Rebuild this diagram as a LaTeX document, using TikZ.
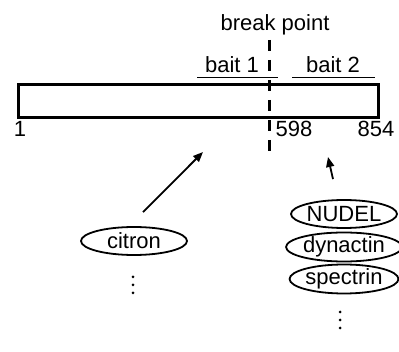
\documentclass[tikz,border=0pt]{standalone}
\usepackage{fontspec}
\setmainfont{Liberation Sans}
\usetikzlibrary{arrows.meta,shapes.geometric}
\begin{document}
\begin{tikzpicture}[x=1pt,y=-1pt,
  every node/.style={font=\fontsize{22}{25}\selectfont, inner sep=0pt},
  lbl/.style={anchor=base},
  prot/.style={draw, ellipse, line width=1.8pt, minimum width=106pt, minimum height=28pt},
  pointer/.style={line width=1.8pt, -{Triangle[length=10pt,width=8pt]}},
  baitline/.style={line width=1pt},
  breakline/.style={line width=3pt, dash pattern=on 11pt off 9pt},
  dotcol/.style={minimum width=4pt, minimum height=20pt}]
\useasboundingbox (0,0) rectangle (399,352);

% the protein bar
\node[draw, line width=2.6pt, minimum width=360pt, minimum height=33pt, anchor=north west] (bar) at (17,83) {};

% bait fragments
\coordinate (b1L) at (197,78); \coordinate (b1R) at (278,78);
\coordinate (b2L) at (292,78); \coordinate (b2R) at (375,78);
\draw[baitline] (b1L) -- (b1R);
\draw[baitline] (b2L) -- (b2R);
\node[lbl] (bait1) at (232,73) {bait 1};
\node[lbl] (bait2) at (333,73) {bait 2};

% break point
\node[lbl] (bp) at (275,31) {break point};
\coordinate (bpT) at (269,40); \coordinate (bpB) at (269,153);
\draw[breakline] (bpT) -- (bpB);

% residue numbers
\node[lbl] (n1) at (20,137) {1};
\node[lbl] (n598) at (294,137) {598};
\node[lbl] (n854) at (376,137) {854};

% interacting proteins
\node[prot] (citron) at (134,241) {citron};
\node[prot] (nudel) at (344,214) {NUDEL};
\node[prot] (dyn) at (344,247) {dynactin};
\node[prot] (spec) at (344,279) {spectrin};

% "and more" dot columns
\node[dotcol] (moreA) at (133,285) {};
\node[dotcol] (moreB) at (340,320) {};
\foreach \d in {-8,0,8} {
  \fill ([yshift=\d pt]moreA.center) circle (1.5pt);
  \fill ([yshift=\d pt]moreB.center) circle (1.5pt);
}

% arrows to the bait regions
\coordinate (tipA) at (203,152);
\coordinate (tipB) at (328,157);
\draw[pointer] ([shift={(9,-14)}]citron.north) -- (tipA);
\draw[pointer] ([shift={(-11,-20)}]nudel.north) -- (tipB);
\end{tikzpicture}
\end{document}
